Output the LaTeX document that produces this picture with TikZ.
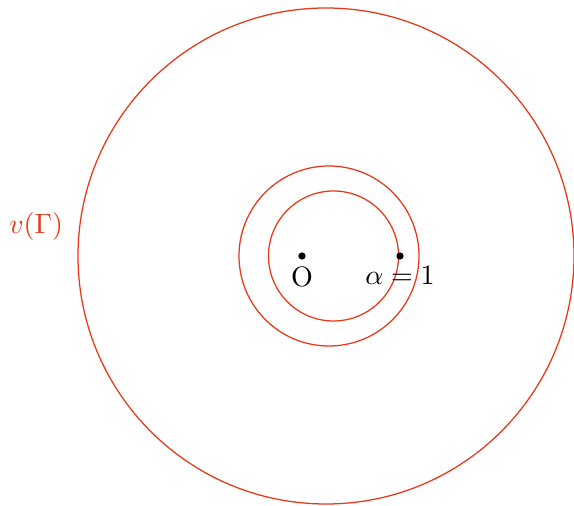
\documentclass[tikz,border=0pt]{standalone}
\usepackage{tikz}
\definecolor{curveRed}{RGB}{232,56,24}
\tikzset{
  curve/.style={draw=curveRed, line width=0.45pt},
  pt/.style={circle, fill=black, inner sep=0pt, minimum size=1.3pt*2},
  ptlabel/.style={below, inner sep=2pt}
}
\begin{document}
\begin{tikzpicture}
% coordinates in pixels of the 574x506 sheet, y downwards
\def\px{0.357pt}
\begin{scope}[x=\px, y=-\px]
  % Sheet
  \useasboundingbox (0,0) rectangle (574,506);
  % Circles
  \draw[curve] (326,256) circle (248);
  \draw[curve] (329,256) circle (90);
  \draw[curve] (333.5,256) circle (65);
  % Points
  \node[pt] (O) at (302,256) {};
  \node[pt] (alpha) at (400,256) {};
  \node[ptlabel] (Olabel) at (O.south) {O};
  \node[ptlabel] (alphalabel) at (alpha.south) {$\alpha=1$};
  % Curve label
  \node[text=curveRed] (vGamma) at (36,227) {$v(\Gamma)$};
\end{scope}
\end{tikzpicture}
\end{document}
